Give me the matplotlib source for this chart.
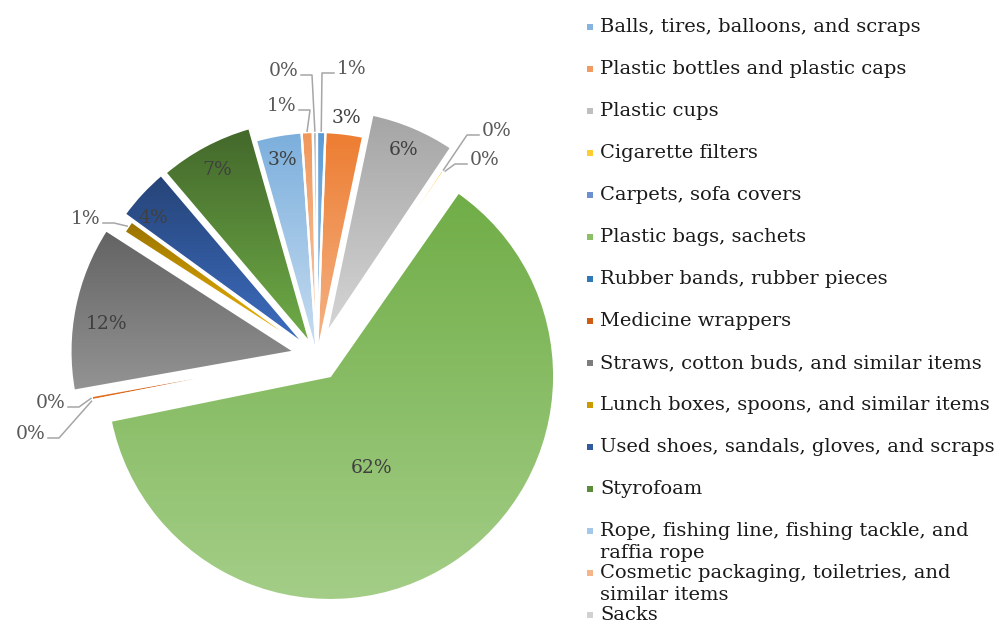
import colorsys

import matplotlib.pyplot as plt
import numpy as np
from matplotlib.colors import to_rgb
from matplotlib.patches import Rectangle

plt.rcParams['font.family'] = ['DejaVu Serif']

categories = [
    "Balls, tires, balloons, and scraps",
    "Plastic bottles and plastic caps",
    "Plastic cups",
    "Cigarette filters",
    "Carpets, sofa covers",
    "Plastic bags, sachets",
    "Rubber bands, rubber pieces",
    "Medicine wrappers",
    "Straws, cotton buds, and similar items",
    "Lunch boxes, spoons, and similar items",
    "Used shoes, sandals, gloves, and scraps",
    "Styrofoam",
    "Rope, fishing line, fishing tackle, and\nraffia rope",
    "Cosmetic packaging, toiletries, and\nsimilar items",
    "Sacks",
]
shares = [0.6, 2.7, 6.1, 0.2, 0.1, 62.1, 0.1, 0.3, 11.9, 0.9, 3.8, 6.8, 3.3, 0.8, 0.3]
colors = ["#5B9BD5", "#ED7D31", "#A5A5A5", "#FFC000", "#4472C4", "#70AD47",
          "#255E91", "#9E480E", "#636363", "#997300", "#264478", "#43682B",
          "#7CAFDD", "#F1975A", "#B7B7B7"]

# per-slice pull-out, in pixels
explode = [0, 0, 24, 0, 0, 24, 5, 5, 23, 5, 15, 14, 0, 0, 0]

W, H = 997, 626
CENTER = (317, 270)
RADIUS = 224

# labels drawn on the slice: index -> (fraction of radius, clockwise shift in degrees)
inside = {1: (1.07, 0), 2: (0.89, 0), 5: (0.45, 9), 8: (0.85, -3),
          10: (0.89, -3), 11: (0.88, 0), 12: (0.89, 0)}
# labels with leader lines: index -> (anchor x, anchor y, side of text)
outside = {0: (334, 553, 'right'), 14: (301, 551, 'left'), 13: (299, 516, 'left'),
           3: (479, 491, 'right'), 4: (467, 462, 'right'), 9: (103, 403, 'left'),
           7: (68, 219, 'left'), 6: (48, 188, 'left')}


def lighten(c, amount):
    h, l, s = colorsys.rgb_to_hls(*to_rgb(c))
    return colorsys.hls_to_rgb(h, min(1, l + amount), s)


fig = plt.figure(figsize=(W / 100, H / 100), dpi=100)
ax = fig.add_axes([0, 0, 1, 1])

wedges, _ = ax.pie(shares, colors=colors, startangle=90, counterclock=False,
                   explode=explode, radius=RADIUS, center=CENTER,
                   wedgeprops=dict(edgecolor='white', linewidth=1.6))

# vertical gradient fill on each slice, dark at the top
for w, c in zip(wedges, colors):
    cx, cy = w.center
    th = np.radians(np.linspace(w.theta1, w.theta2, 100))
    xs = np.r_[cx, cx + w.r * np.cos(th)]
    ys = np.r_[cy, cy + w.r * np.sin(th)]
    top, bottom = np.array(to_rgb(c)), np.array(lighten(c, 0.19))
    t = np.linspace(0, 1, 128)[:, None, None]
    grad = top * (1 - t) + bottom * t
    grad = np.repeat(grad, 2, axis=1)
    im = ax.imshow(grad, extent=[xs.min(), xs.max(), ys.min(), ys.max()],
                   origin='upper', aspect='auto', interpolation='bilinear',
                   zorder=1.5)
    im.set_clip_path(w)
    w.set_facecolor('none')
    w.set_zorder(2)

for i, w in enumerate(wedges):
    text = f"{round(shares[i])}%"
    cx, cy = w.center
    mid = 0.5 * (w.theta1 + w.theta2)
    if i in inside:
        frac, shift = inside[i]
        a = np.radians(mid - shift)
        ax.text(cx + frac * w.r * np.cos(a), cy + frac * w.r * np.sin(a), text,
                ha='center', va='center', fontsize=13.5, color="#404040", zorder=4)
    elif i in outside:
        axx, ayy, side = outside[i]
        a = np.radians(mid)
        px, py = cx + (w.r + 1) * np.cos(a), cy + (w.r + 1) * np.sin(a)
        ex = axx - 12 if side == 'right' else axx + 11
        ax.plot([axx, ex, px], [ayy, ayy, py], color="#A6A6A6", lw=1.1, zorder=3)
        if side == 'right':
            ax.text(axx + 3, ayy + 4, text, ha='left', va='center',
                    fontsize=13.5, color="#595959")
        else:
            ax.text(axx - 3, ayy + 4, text, ha='right', va='center',
                    fontsize=13.5, color="#595959")

# legend column on the right
for i, (name, c) in enumerate(zip(categories, colors)):
    y = 599 - 42.0 * i
    ax.add_patch(Rectangle((587, y - 3), 6, 6, facecolor=lighten(c, 0.1),
                           edgecolor='none'))
    for k, line in enumerate(name.split("\n")):
        ax.text(600, y - 22 * k, line, ha='left', va='center',
                fontsize=14, color="#1A1A1A")

ax.set_xlim(0, W)
ax.set_ylim(0, H)
ax.axis('off')

fig.savefig("out.png", dpi=100)
